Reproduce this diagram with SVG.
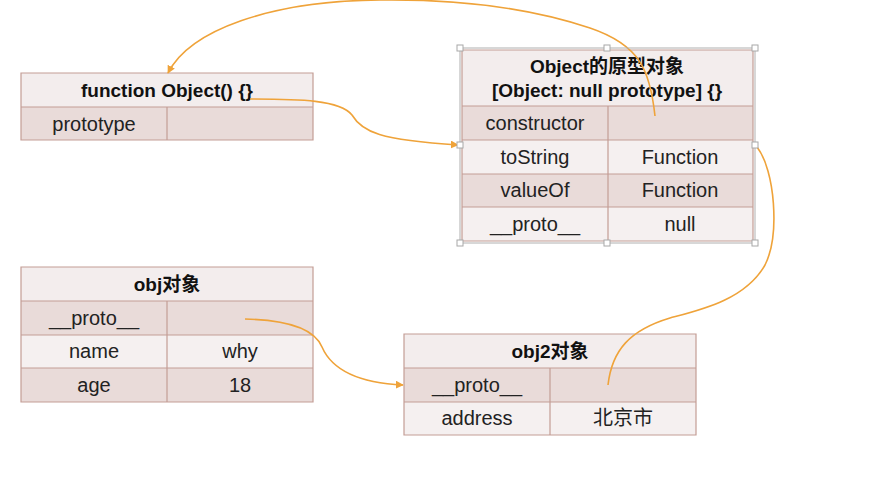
<svg xmlns="http://www.w3.org/2000/svg" width="891" height="481" viewBox="0 0 891 481">
  <defs>
    <style>
      .hdr { fill: #f3eded; }
      .dk { fill: #e9dbd9; }
      .lt { fill: #f5f0f0; }
      .grid { fill: none; stroke: #c49d95; stroke-width: 1.2; }
      .t { font-family: "Liberation Sans", "Noto Sans CJK SC", sans-serif; font-size: 20px; fill: #222; text-anchor: middle; }
      .b { font-weight: bold; font-size: 19px; fill: #111; }
      .link { fill: none; stroke: #efa33a; stroke-width: 1.6; }
      .sel { fill: none; stroke: #b0b0b0; stroke-width: 1; }
      .handle { fill: #ffffff; stroke: #a8a8a8; stroke-width: 1; }
    </style>
    <marker id="arrow" viewBox="0 0 10 10" refX="9" refY="5" markerWidth="5" markerHeight="5" orient="auto">
      <path d="M0,0 L10,5 L0,10 z" fill="#efa33a"/>
    </marker>
  </defs>

  <rect width="891" height="481" fill="#ffffff"/>

  <!-- function Object() {} -->
  <g id="function-object">
    <rect class="hdr" x="21" y="73" width="292" height="34"/>
    <rect class="dk" x="21" y="107" width="292" height="33"/>
    <path class="grid" d="M21,73 H313 V140 H21 Z M21,107 H313 M167,107 V140"/>
    <text class="t b" x="167" y="97">function Object() {}</text>
    <text class="t" x="94" y="131">prototype</text>
  </g>

  <!-- Object prototype object -->
  <g id="object-prototype">
    <rect class="hdr" x="462" y="50" width="291" height="56"/>
    <rect class="dk" x="462" y="106" width="291" height="34"/>
    <rect class="lt" x="462" y="140" width="291" height="34"/>
    <rect class="dk" x="462" y="174" width="291" height="33"/>
    <rect class="lt" x="462" y="207" width="291" height="34"/>
    <path class="grid" d="M462,50 H753 V241 H462 Z M462,106 H753 M462,140 H753 M462,174 H753 M462,207 H753 M608,106 V241"/>
    <text class="t b" x="607" y="73">Object的原型对象</text>
    <text class="t b" x="607" y="97">[Object: null prototype] {}</text>
    <text class="t" x="535" y="130">constructor</text>
    <text class="t" x="535" y="164">toString</text>
    <text class="t" x="680" y="164">Function</text>
    <text class="t" x="535" y="197">valueOf</text>
    <text class="t" x="680" y="197">Function</text>
    <text class="t" x="535" y="231">__proto__</text>
    <text class="t" x="680" y="231">null</text>
  </g>

  <!-- obj -->
  <g id="obj">
    <rect class="hdr" x="21" y="267" width="292" height="34"/>
    <rect class="dk" x="21" y="301" width="292" height="34"/>
    <rect class="lt" x="21" y="335" width="292" height="33"/>
    <rect class="dk" x="21" y="368" width="292" height="34"/>
    <path class="grid" d="M21,267 H313 V402 H21 Z M21,301 H313 M21,335 H313 M21,368 H313 M167,301 V402"/>
    <text class="t b" x="167" y="291">obj对象</text>
    <text class="t" x="94" y="325">__proto__</text>
    <text class="t" x="94" y="358">name</text>
    <text class="t" x="240" y="358">why</text>
    <text class="t" x="94" y="392">age</text>
    <text class="t" x="240" y="392">18</text>
  </g>

  <!-- obj2 -->
  <g id="obj2">
    <rect class="hdr" x="404" y="334" width="292" height="34"/>
    <rect class="dk" x="404" y="368" width="292" height="34"/>
    <rect class="lt" x="404" y="402" width="292" height="33"/>
    <path class="grid" d="M404,334 H696 V435 H404 Z M404,368 H696 M404,402 H696 M550,368 V435"/>
    <text class="t b" x="550" y="358">obj2对象</text>
    <text class="t" x="477" y="392">__proto__</text>
    <text class="t" x="477" y="425">address</text>
    <text class="t" x="623" y="425">北京市</text>
  </g>

  <!-- connectors -->
  <g id="connectors">
    <path class="link" marker-end="url(#arrow)" d="M655,116 C650,70 640,45 590,28 C530,8 460,-1 380,0 C270,1 190,30 168,73"/>
    <path class="link" marker-end="url(#arrow)" d="M250,99 C300,99 340,100 352,115 C362,132 380,140 458,145"/>
    <path class="link" d="M608,385 C612,350 630,330 670,318 C700,310 745,300 765,265 C780,235 775,170 757,147"/>
    <path class="link" marker-end="url(#arrow)" d="M245,319 C290,320 315,330 322,347 C332,370 360,383 403,385"/>
  </g>

  <!-- selection frame around the prototype table -->
  <g id="selection">
    <rect class="sel" x="460" y="48" width="295" height="195"/>
    <rect class="handle" x="457" y="45" width="6" height="6"/>
    <rect class="handle" x="604" y="45" width="6" height="6"/>
    <rect class="handle" x="752" y="45" width="6" height="6"/>
    <rect class="handle" x="457" y="142" width="6" height="6"/>
    <rect class="handle" x="752" y="142" width="6" height="6"/>
    <rect class="handle" x="457" y="240" width="6" height="6"/>
    <rect class="handle" x="604" y="240" width="6" height="6"/>
    <rect class="handle" x="752" y="240" width="6" height="6"/>
  </g>
</svg>
